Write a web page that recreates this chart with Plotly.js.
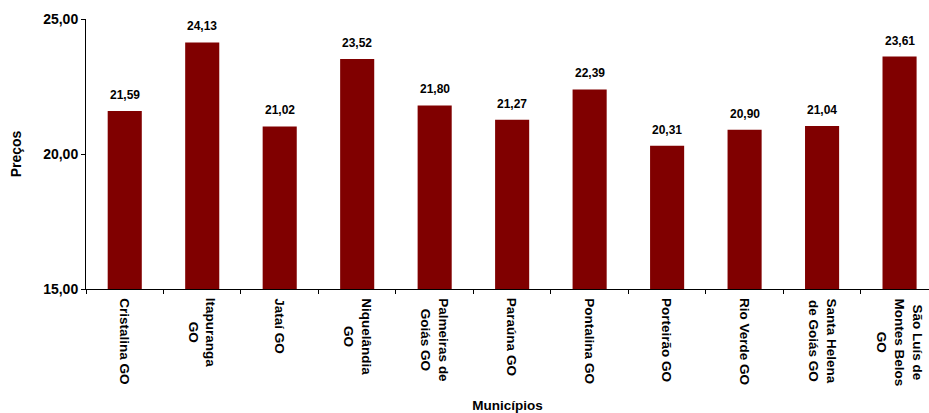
<!DOCTYPE html>
<html>
<head>
<meta charset="utf-8">
<script src="https://cdn.plot.ly/plotly-3.0.1.min.js"></script>
<style>
html,body{margin:0;padding:0;overflow:hidden;background:#fff;}
#chart{width:929px;height:413px;}
</style>
</head>
<body>
<div id="chart"></div>
<script>
var categories = ["Cristalina GO","Itapuranga<br>GO","Jataí GO","Niquelândia<br>GO","Palmeiras de<br>Goiás GO","Paraúna GO","Pontalina GO","Porteirão GO","Rio Verde GO","Santa Helena<br>de Goiás GO","São Luís de<br>Montes Belos<br>GO"];
var prices = [21.59, 24.13, 21.02, 23.52, 21.80, 21.27, 22.39, 20.31, 20.90, 21.04, 23.61];
var yTicks = [15, 20, 25];

var font = "'Liberation Sans', Arial, sans-serif";

var valueLabels = prices.map(function(v, i){
  return {x: categories[i], y: v, xref: 'x', yref: 'y', text: '<b>' + v.toFixed(2).replace('.', ',') + '</b>',
    showarrow: false, yanchor: 'bottom', yshift: 7, font: {family: font, size: 12, color: '#000'}};
});
var catLabels = categories.map(function(c){
  return {x: c, y: 0, xref: 'x', yref: 'paper', text: '<b>' + c + '</b>', textangle: 90,
    showarrow: false, xanchor: 'center', yanchor: 'top', align: 'center', yshift: -7,
    font: {family: font, size: 13.5, color: '#000'}};
});

var trace = {
  type: 'bar', x: categories, y: prices,
  marker: {color: '#800000', line: {width: 0}}, width: 0.44, hoverinfo: 'none'
};

var layout = {
  width: 929, height: 413,
  margin: {l: 86, r: 0, t: 19, b: 124},
  separators: ',.',
  paper_bgcolor: '#fff', plot_bgcolor: '#fff',
  showlegend: false,
  font: {family: font, size: 12, color: '#000'},
  xaxis: {
    type: 'category', range: [-0.5, 10.38], tickson: 'boundaries',
    ticks: 'outside', ticklen: 4, tickcolor: '#000', showticklabels: false,
    showline: true, linecolor: '#000', linewidth: 1,
    showgrid: false, zeroline: false, fixedrange: true,
    title: {text: '<b>Municípios</b>', font: {family: font, size: 13.5, color: '#000'}, standoff: 111}
  },
  yaxis: {
    range: [15, 25], tickmode: 'array', tickvals: yTicks, tickformat: '.2f',
    ticks: 'outside', ticklen: 4, tickcolor: '#000', showline: true, linecolor: '#000', linewidth: 1,
    showgrid: false, zeroline: false,
    tickfont: {family: font, size: 14, color: '#000', weight: 'bold'},
    title: {text: '<b>Preços</b>', font: {family: font, size: 14, color: '#000'}, standoff: 18}
  },
  annotations: valueLabels.concat(catLabels)
};

Plotly.newPlot('chart', [trace], layout, {displayModeBar: false, staticPlot: true});
</script>
</body>
</html>
